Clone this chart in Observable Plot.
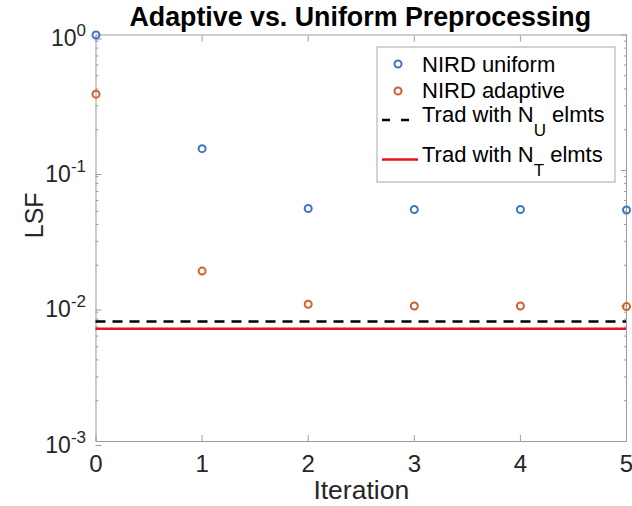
<!DOCTYPE html>
<html><head><meta charset="utf-8">
<script src="https://cdn.jsdelivr.net/npm/d3@7"></script>
<script src="https://cdn.jsdelivr.net/npm/@observablehq/plot@0.6"></script>
<style>
html,body{margin:0;padding:0;background:#fff;}
#chart svg{display:block;}
</style></head><body><div id="chart"></div>
<script>
// ---- data ----
const titleText = "Adaptive vs. Uniform Preprocessing";
const xLabel = "Iteration";
const yLabel = "LSF";
const iterations = [0, 1, 2, 3, 4, 5];
const nirdUniform = [1.0, 0.145, 0.0524, 0.0515, 0.0515, 0.0511];
const nirdAdaptive = [0.366, 0.0181, 0.0103, 0.0100, 0.0100, 0.0099];
const tradNU = [0.0077];
const tradNT = [0.0068];
const xTicks = [0, 1, 2, 3, 4, 5];
const yTicks = [1e-3, 1e-2, 1e-1, 1];
const yTickExponents = ["-3", "-2", "-1", "0"];
const seriesNames = ["NIRD uniform", "NIRD adaptive"];
const tradLabels = [["Trad with N", "U", " elmts"], ["Trad with N", "T", " elmts"]];

// ---- style ----
const blue = "#3f74c6", orange = "#d0602c", red = "#e3161d";
const axisColor = "#9c9c9c", textColor = "#262626";
const fontFamily = "'Liberation Sans', Arial, Helvetica, sans-serif";

const minorTicks = [];
for (const d of yTicks.slice(0, -1)) for (let k = 2; k <= 9; k++) minorTicks.push(d * k);

const plot = Plot.plot({
  width: 632, height: 506,
  marginLeft: 95.5, marginRight: 6, marginTop: 34.5, marginBottom: 65,
  style: {fontFamily, color: textColor, background: "#fff", overflow: "visible"},
  x: {domain: [0, 5], axis: null},
  y: {type: "log", domain: [1e-3, 1], axis: null},
  marks: [
    Plot.frame({stroke: axisColor, strokeWidth: 1}),
    Plot.axisX(xTicks, {anchor: "bottom", tickSize: -6, tickPadding: 19, stroke: axisColor, fill: textColor, fontSize: 24, tickFormat: d => String(d)}),
    Plot.axisX(xTicks, {anchor: "top", tickSize: -6, stroke: axisColor, tickFormat: () => ""}),
    Plot.axisY(yTicks, {anchor: "left", tickSize: -6, tickPadding: 16, dy: 4, stroke: axisColor, fill: textColor, fontSize: 23,
      tickFormat: d => "10^" + yTickExponents[yTicks.indexOf(d)]}),
    Plot.axisY(minorTicks, {anchor: "left", tickSize: -3, stroke: axisColor, tickFormat: () => ""}),
    Plot.axisY(yTicks, {anchor: "right", tickSize: -6, stroke: axisColor, tickFormat: () => ""}),
    Plot.axisY(minorTicks, {anchor: "right", tickSize: -3, stroke: axisColor, tickFormat: () => ""}),
    Plot.ruleY(tradNU, {stroke: "#000", strokeWidth: 2.5, strokeDasharray: "10,7"}),
    Plot.ruleY(tradNT, {stroke: red, strokeWidth: 2.5}),
    Plot.dot(iterations, {x: iterations, y: nirdUniform, r: 3.5, stroke: blue, strokeWidth: 2, fill: "none"}),
    Plot.dot(iterations, {x: iterations, y: nirdAdaptive, r: 3.5, stroke: orange, strokeWidth: 2, fill: "none"}),
    Plot.text([titleText], {frameAnchor: "top", lineAnchor: "bottom", dy: -9.5, dx: -1, fontSize: 26.8, fontWeight: "bold", fill: "#000"}),
    Plot.text([xLabel], {frameAnchor: "bottom", dy: 57, fontSize: 26.5, fill: textColor}),
    Plot.text([yLabel], {frameAnchor: "left", rotate: -90, dx: -61, fontSize: 25, fill: textColor})
  ]
});

// superscript exponents on y tick labels
d3.select(plot).selectAll('g[aria-label="y-axis tick label"] text').each(function () {
  const t = this.textContent;
  if (!t.includes("^")) return;
  const [b, e] = t.split("^");
  const s = d3.select(this);
  s.text(b);
  s.append("tspan").attr("dy", -10).attr("font-size", 17).text(e);
});

// legend
const svg = d3.select(plot);
const lg = svg.append("g").attr("font-family", fontFamily).attr("font-size", 22).attr("fill", "#000").attr("text-anchor", "start");
lg.append("rect").attr("x", 377).attr("y", 47).attr("width", 238).attr("height", 135)
  .attr("fill", "#fff").attr("stroke", "#a8a8a8").attr("stroke-width", 1);
const markerRows = [{y: 64, base: 71.5, color: blue, label: seriesNames[0]}, {y: 91, base: 98, color: orange, label: seriesNames[1]}];
for (const r of markerRows) {
  lg.append("circle").attr("cx", 398).attr("cy", r.y).attr("r", 3.5).attr("fill", "none").attr("stroke", r.color).attr("stroke-width", 2);
  lg.append("text").attr("x", 422).attr("y", r.base).text(r.label);
}
const lineRows = [{y: 120, base: 122, stroke: "#000", dash: "8,11", label: tradLabels[0]}, {y: 159.5, base: 162, stroke: red, dash: null, label: tradLabels[1]}];
for (const r of lineRows) {
  const l = lg.append("line").attr("x1", 382).attr("x2", 418).attr("y1", r.y).attr("y2", r.y).attr("stroke", r.stroke).attr("stroke-width", 2.5);
  if (r.dash) l.attr("stroke-dasharray", r.dash);
  const t = lg.append("text").attr("x", 422).attr("y", r.base);
  t.append("tspan").text(r.label[0]);
  t.append("tspan").attr("font-size", 17).attr("dy", 14).text(r.label[1]);
  t.append("tspan").attr("dy", -14).text(r.label[2]);
}

document.getElementById("chart").appendChild(plot);
</script>
</body></html>
